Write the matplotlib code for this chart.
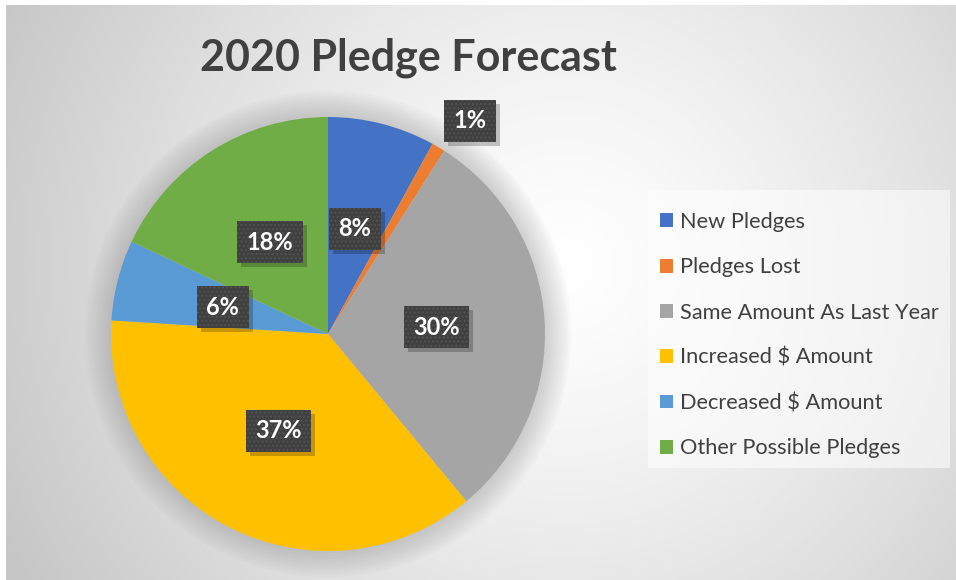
import numpy as np
import matplotlib.pyplot as plt
from matplotlib.patches import Circle, Patch, Rectangle

plt.rcParams['font.family'] = ['Lato', 'DejaVu Sans']

# data
categories = ['New Pledges', 'Pledges Lost', 'Same Amount As Last Year',
              'Increased $ Amount', 'Decreased $ Amount', 'Other Possible Pledges']
shares = [8, 1, 30, 37, 6, 18]
colors = ['#4472C4', '#ED7D31', '#A5A5A5', '#FFC000', '#5B9BD5', '#70AD47']
title = '2020 Pledge Forecast'

W, H = 956, 580
fig = plt.figure(figsize=(W / 100, H / 100), dpi=100)
fig.patch.set_facecolor('white')

# radial gradient background
bg = fig.add_axes([6 / W, 0, 1 - 6 / W, 1 - 5 / H])
bg.set_axis_off()
yy, xx = np.mgrid[0:H - 5, 0:W - 6]
d = np.hypot(xx - 560, yy - 260) / 620.0
d = np.clip(d, 0, 1) ** 1.3
g = 1.0 - (1.0 - 0.78) * d
bg.imshow(np.dstack([g, g, g]), aspect='auto', extent=[0, 1, 0, 1], zorder=0)
bg.set_xlim(0, 1)
bg.set_ylim(0, 1)

# legend background panel
fig.patches.append(Rectangle((648 / W, 1 - 468 / H), 302 / W, 278 / H,
                             transform=fig.transFigure, fc='white', ec='none',
                             alpha=0.55, zorder=1))

# pie axes, centre (328, 334) px, radius 217 px
cx, cy, r = 328 / W, 1 - 334 / H, 217.0
ax = fig.add_axes([cx - r / W, cy - r / H, 2 * r / W, 2 * r / H])
ax.set_facecolor('none')

# soft glow around the pie
for k in range(10):
    ax.add_patch(Circle((0, 0), 1.0 + 0.012 * (k + 1), fc='#808080', ec='none',
                        alpha=0.035, zorder=0, clip_on=False))

wedges, texts, autotexts = ax.pie(
    shares, colors=colors, startangle=90, counterclock=False,
    autopct='%.0f%%', pctdistance=0.5, wedgeprops=dict(linewidth=0),
    textprops=dict(color='white', fontsize=17, fontweight='bold'))
ax.set_xlim(-1, 1)
ax.set_ylim(-1, 1)
ax.set_aspect('auto')

for i, t in enumerate(autotexts):
    if shares[i] < 3:
        # small slice: label outside the pie
        w = wedges[i]
        ang = np.deg2rad((w.theta1 + w.theta2) / 2 - 3)
        t.set_position((1.18 * np.cos(ang), 1.18 * np.sin(ang)))
    t.set_ha('center')
    t.set_va('center')
    t.set_bbox(dict(boxstyle='square,pad=0.4', fc='#404040', ec='#525252',
                    lw=0, hatch='....'))
    t.set_zorder(6)

fig.text(408 / W, 1 - 58 / H, title, ha='center', va='center',
         fontsize=31, fontweight='bold', color='#404040')

handles = [Patch(fc=c, ec='none') for c in colors]
leg = fig.legend(handles, categories, loc='upper left',
                 bbox_to_anchor=(660 / W, 1 - 212 / H), borderaxespad=0,
                 fontsize=15.7, frameon=False, borderpad=0,
                 handlelength=0.6, handleheight=0.6, handletextpad=0.3,
                 labelspacing=1.16, labelcolor='#404040')

# shadow boxes behind the data labels
fig.canvas.draw()
for t in autotexts:
    bb = t.get_bbox_patch().get_window_extent()
    ax.add_patch(Rectangle(((bb.x0 + 4) / W, (bb.y0 - 4) / H),
                           bb.width / W, bb.height / H,
                           transform=fig.transFigure, fc='black', ec='none',
                           alpha=0.22, zorder=5, clip_on=False))

fig.savefig('out.png', dpi=100)
